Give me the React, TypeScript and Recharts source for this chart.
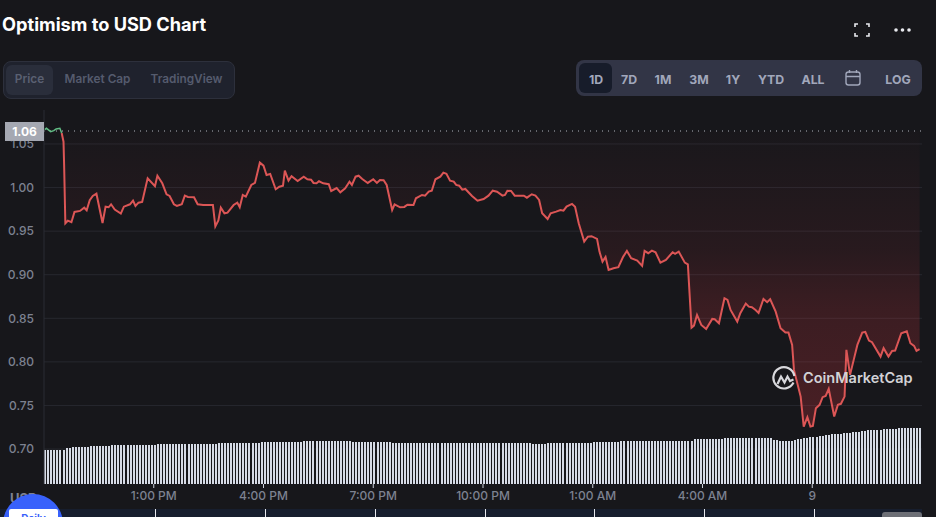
import React from 'react';
import {
  Area,
  Bar,
  CartesianGrid,
  ComposedChart,
  Line,
  ReferenceLine,
  XAxis,
  YAxis,
} from 'recharts';

// minutes since 10:00 AM, one entry per price below
const priceTimes = [
  1, 4, 11, 16, 20, 26, 29, 32, 33, 35, 39, 45, 50, 59, 66, 70, 75, 80, 86, 96, 101, 106, 110, 116, 126, 131, 141, 146, 150, 155, 161,
  170, 182, 186, 194, 201, 206, 213, 218, 226, 231, 236, 246, 252, 261, 277, 281, 286, 290, 296, 301, 311, 317, 321, 326, 331, 340, 346,
  354, 360, 365, 371, 380, 386, 392, 395, 401, 406, 416, 426, 432, 438, 442, 447, 451, 458, 467, 471, 480, 486, 494, 501, 505, 511, 516,
  522, 531, 540, 546, 551, 557, 562, 571, 575, 584, 591, 596, 606, 610, 620, 625, 631, 636, 642, 650, 655, 660, 666, 672, 676, 681, 686,
  691, 702, 711, 721, 729, 736, 743, 752, 756, 760, 766, 772, 787, 792, 800, 806, 812, 817, 826, 831, 840, 847, 852, 857, 866, 871, 877,
  886, 892, 898, 907, 911, 916, 921, 926, 934, 942, 950, 956, 963, 973, 981, 985, 991, 997, 1003, 1011, 1020, 1031, 1035, 1041, 1051, 1056,
  1062, 1066, 1071, 1078, 1086, 1096, 1100, 1107, 1116, 1121, 1126, 1137, 1142, 1151, 1156, 1161, 1167, 1172, 1180, 1186, 1191, 1200, 1208,
  1216, 1221, 1227, 1230, 1241, 1246, 1252, 1257, 1261, 1266, 1272, 1277, 1282, 1287, 1296, 1302, 1307, 1313, 1316, 1322, 1328, 1334, 1342,
  1347, 1353, 1358, 1372, 1377, 1385, 1391, 1396, 1406, 1415, 1421, 1427, 1431, 1436,
];

const prices = [
  1.0664, 1.068, 1.0641, 1.0653, 1.0672, 1.068, 1.0626, 1.0526, 1.0259, 0.9591, 0.962, 0.9602, 0.972, 0.9732, 0.9769, 0.974, 0.9854, 0.9904, 0.993, 0.9594, 0.9781, 0.9774, 0.9808, 0.9747, 0.9701, 0.9781, 0.9808, 0.985, 0.9789, 0.9827, 0.9835,
  1.0107, 1.0015, 1.0136, 1.0049, 0.9923, 0.9904, 0.9808, 0.9789, 0.9808, 0.9907, 0.9892, 0.9889, 0.9808, 0.98, 0.98, 0.9554, 0.9623, 0.977, 0.9705, 0.9712, 0.98, 0.9827, 0.9774, 0.9915, 0.9896, 1.003, 1.0053,
  1.0286, 1.0251, 1.0144, 1.0156, 0.9981, 1.001, 1.0022, 1.0194, 1.0079, 1.013, 1.0076, 1.0125, 1.0095, 1.0091, 1.0053, 1.0049, 1.0072, 1.0049, 1.0038, 0.9961, 0.9995, 0.9946, 0.9992, 1.0068, 1.003, 1.0125, 1.0136,
  1.0099, 1.0053, 1.0095, 1.0053, 1.0087, 1.0084, 1.003, 0.9743, 0.9808, 0.9774, 0.9778, 0.9804, 0.98, 0.9877, 0.9915, 0.9907, 0.9953, 0.9964, 1.0095, 1.0125, 1.0171, 1.0159, 1.0079, 1.0068, 1.003, 1.0022, 0.9976,
  0.9984, 0.9904, 0.985, 0.9869, 0.9907, 0.9964, 0.9953, 0.9907, 0.9915, 0.9964, 0.9961, 0.9907, 0.9907, 0.9884, 0.9923, 0.9907, 0.9858, 0.9705, 0.964, 0.9705, 0.9724, 0.9743, 0.9735, 0.9781, 0.9812, 0.9781, 0.9591,
  0.938, 0.9437, 0.9442, 0.9411, 0.9265, 0.915, 0.9204, 0.9055, 0.9075, 0.9086, 0.9208, 0.9273, 0.9189, 0.9162, 0.9101, 0.9273, 0.9247, 0.9276, 0.9258, 0.9139, 0.917, 0.9258, 0.9239, 0.9265, 0.9139, 0.912,
  0.8393, 0.8416, 0.8539, 0.8424, 0.8378, 0.8493, 0.849, 0.8444, 0.8731, 0.8711, 0.8596, 0.8462, 0.8559, 0.8669, 0.8634, 0.8627, 0.8596, 0.8562, 0.8722, 0.8685, 0.8719, 0.8577, 0.8387,
  0.8336, 0.8336, 0.8195, 0.7908, 0.7602, 0.7258, 0.7366, 0.7258, 0.7266, 0.7469, 0.7507, 0.7595, 0.761, 0.769, 0.7373, 0.7507, 0.7519, 0.7602, 0.8138, 0.7851, 0.8023, 0.8195, 0.8336,
  0.8344, 0.8244, 0.8226, 0.8061, 0.8157, 0.8061, 0.8126, 0.813, 0.8329, 0.8352, 0.8214, 0.8184, 0.8126, 0.8146,
];

// one bar every 5 minutes, relative volume
const volumes = [
  34, 34, 34, 34, 34, 34, 34, 36, 36, 37, 37, 37, 37, 37, 37, 38, 38, 38, 38, 38, 38, 38, 39, 39, 39, 39, 39, 39, 39, 39,
  39, 39, 39, 39, 39, 39, 39, 40, 40, 40, 40, 40, 40, 40, 40, 40, 40, 40, 40, 40, 40, 40, 40, 40, 40, 40, 40, 41, 41, 41,
  41, 41, 41, 41, 41, 41, 41, 41, 41, 41, 41, 42, 42, 42, 42, 42, 42, 42, 42, 42, 42, 42, 42, 42, 42, 43, 43, 43, 43, 43,
  43, 43, 43, 43, 43, 43, 43, 43, 43, 43, 43, 42, 42, 42, 42, 42, 42, 42, 42, 42, 42, 42, 42, 42, 41, 41, 41, 41, 41, 41,
  41, 41, 41, 41, 41, 41, 41, 41, 41, 41, 41, 41, 41, 41, 41, 41, 41, 41, 41, 41, 41, 41, 41, 41, 41, 41, 41, 41, 41, 41,
  41, 41, 41, 41, 41, 41, 41, 41, 41, 41, 40, 40, 40, 40, 40, 41, 41, 41, 41, 41, 41, 41, 41, 41, 41, 41, 41, 41, 41, 41,
  42, 42, 42, 42, 42, 42, 42, 42, 42, 43, 43, 43, 43, 43, 43, 43, 43, 43, 43, 43, 43, 43, 43, 43, 43, 43, 43, 43, 43, 43,
  43, 43, 43, 45, 45, 45, 45, 45, 45, 45, 45, 45, 45, 46, 46, 46, 46, 46, 46, 46, 46, 46, 46, 46, 46, 46, 46, 46, 46, 44,
  44, 43, 43, 43, 43, 43, 44, 45, 45, 46, 46, 47, 47, 47, 48, 48, 49, 49, 50, 50, 50, 50, 51, 51, 51, 52, 52, 52, 53, 53,
  54, 54, 54, 54, 54, 55, 55, 55, 55, 55, 56, 56, 56, 56, 56, 56, 56, 56,
];

const timeTicks = [180, 360, 540, 720, 900, 1080, 1260];
const timeLabels = ['1:00 PM', '4:00 PM', '7:00 PM', '10:00 PM', '1:00 AM', '4:00 AM', '9'];
const priceTicks = [0.7, 0.75, 0.8, 0.85, 0.9, 0.95, 1.0, 1.05];
const openPrice = 1.0649;
const greenUntil = 29;

const chartTabs = [
  { label: 'Market Cap', x: 97.5 },
  { label: 'TradingView', x: 186.5 },
];
const rangeTabs = [
  { label: '1D', x: 596 },
  { label: '7D', x: 629 },
  { label: '1M', x: 663 },
  { label: '3M', x: 699 },
  { label: '1Y', x: 733 },
  { label: 'YTD', x: 771 },
  { label: 'ALL', x: 813 },
  { label: 'LOG', x: 898 },
];
const stripTicks = [155, 265, 375, 485, 594, 704, 814];

const FONT = 'Inter, sans-serif';

const priceRows = priceTimes.map((time, i) => ({
  time,
  upPrice: time <= greenUntil ? prices[i] : undefined,
  downPrice: time >= greenUntil ? prices[i] : undefined,
}));
const volumeRows = volumes.map((volume, i) => ({ time: i * 5 + 2, volume }));
const rows = [...priceRows, ...volumeRows].sort((a, b) => a.time - b.time);

// rows share one axis, so the band is too narrow for the library's own bar width
function VolumeBar({ x, y, width, height, volume }: any) {
  if (volume == null) return null;
  return (
    <rect
      x={Math.round(x + width / 2 - 1)}
      y={y}
      width={2}
      height={height}
      fill="#d6dbe6"
    />
  );
}

function Label({ x, y, color, size = 12, weight = 600, children }: any) {
  return (
    <div
      style={{
        position: 'absolute',
        left: x,
        top: y,
        transform: 'translate(-50%, -50%)',
        color,
        fontSize: size,
        fontWeight: weight,
        whiteSpace: 'nowrap',
      }}
    >
      {children}
    </div>
  );
}

export default function App() {
  return (
    <div
      style={{
        position: 'absolute',
        left: 0,
        top: 0,
        width: 936,
        height: 517,
        overflow: 'hidden',
        background: '#17171b',
        fontFamily: FONT,
      }}
    >
      <ComposedChart
        width={936}
        height={517}
        data={rows}
        margin={{ top: 110, right: 14, bottom: 0, left: 0 }}
      >
        <defs>
          <linearGradient id="downFill" x1="0" y1="0" x2="0" y2="1">
            <stop offset="0%" stopColor="#ea3943" stopOpacity={0.01} />
            <stop offset="40%" stopColor="#ea3943" stopOpacity={0.08} />
            <stop offset="60%" stopColor="#ea3943" stopOpacity={0.17} />
            <stop offset="100%" stopColor="#ea3943" stopOpacity={0.24} />
          </linearGradient>
        </defs>
        <CartesianGrid
          stroke="#27282f"
          vertical={false}
          yAxisId="price"
          horizontalValues={priceTicks}
        />
        <XAxis
          dataKey="time"
          type="number"
          domain={[0, 1440]}
          ticks={timeTicks}
          tickFormatter={(t: number) => timeLabels[timeTicks.indexOf(t)]}
          height={33}
          tickSize={4}
          tickMargin={3}
          axisLine={false}
          tickLine={{ stroke: '#c8ccd6' }}
          tick={{ fill: '#7d8291', fontSize: 12, fontWeight: 500, fontFamily: FONT }}
        />
        <YAxis
          yAxisId="price"
          width={44}
          domain={[0.6599, 1.089]}
          ticks={priceTicks}
          tickFormatter={(v: number) => v.toFixed(2)}
          tickSize={0}
          tickMargin={10}
          axisLine={{ stroke: '#2b2c34' }}
          tickLine={false}
          tick={{ fill: '#7d8291', fontSize: 12, fontWeight: 500, fontFamily: FONT }}
        />
        <YAxis yAxisId="volume" orientation="right" hide domain={[0, 374]} />
        <Bar
          yAxisId="volume"
          dataKey="volume"
          shape={VolumeBar}
          isAnimationActive={false}
        />
        <ReferenceLine
          yAxisId="price"
          y={openPrice}
          stroke="#b4b7c0"
          strokeDasharray="1 5"
        />
        <Area
          yAxisId="price"
          type="linear"
          dataKey="downPrice"
          baseValue={openPrice}
          stroke="#dc5656"
          strokeWidth={2}
          fill="url(#downFill)"
          fillOpacity={1}
          connectNulls
          dot={false}
          activeDot={false}
          isAnimationActive={false}
        />
        <Line
          yAxisId="price"
          type="linear"
          dataKey="upPrice"
          stroke="#62bd85"
          strokeWidth={1.5}
          connectNulls
          dot={false}
          activeDot={false}
          isAnimationActive={false}
        />
      </ComposedChart>

      {/* last price tag on the axis */}
      <div
        style={{
          position: 'absolute',
          left: 5,
          top: 122,
          width: 39,
          height: 19,
          lineHeight: '19px',
          background: '#a5a8b2',
          color: '#fff',
          fontSize: 12,
          fontWeight: 700,
          textAlign: 'center',
        }}
      >
        1.06
      </div>

      <div
        style={{
          position: 'absolute',
          left: 2,
          top: 13,
          color: '#fff',
          fontSize: 18.2,
          fontWeight: 700,
          lineHeight: '22px',
          whiteSpace: 'nowrap',
        }}
      >
        Optimism to USD Chart
      </div>

      {/* fullscreen and menu */}
      <svg
        width={936}
        height={60}
        style={{ position: 'absolute', left: 0, top: 0 }}
        fill="none"
        stroke="#e8e9ee"
        strokeWidth={1.6}
      >
        <path d="M855 27v-3h3M866 24h3v3M869 33v3h-3M858 36h-3v-3" />
        <g fill="#e8e9ee" stroke="none">
          <circle cx={896} cy={30} r={1.8} />
          <circle cx={902.5} cy={30} r={1.8} />
          <circle cx={909} cy={30} r={1.8} />
        </g>
      </svg>

      {/* chart type tabs */}
      <div
        style={{
          position: 'absolute',
          left: 3,
          top: 61,
          width: 230,
          height: 36,
          background: '#1f222d',
          border: '1px solid #2d303c',
          borderRadius: 8,
        }}
      />
      <div
        style={{
          position: 'absolute',
          left: 6,
          top: 65,
          width: 47,
          height: 30,
          background: '#2a2e3b',
          borderRadius: 6,
        }}
      />
      <Label x={29.5} y={79} color="#5a6072" size={11.8}>Price</Label>
      {chartTabs.map((tab) => (
        <Label key={tab.label} x={tab.x} y={79} color="#555b6d" size={11.8}>{tab.label}</Label>
      ))}

      {/* range tabs */}
      <div
        style={{
          position: 'absolute',
          left: 576,
          top: 60,
          width: 346,
          height: 36,
          background: '#323546',
          borderRadius: 8,
        }}
      />
      <div
        style={{
          position: 'absolute',
          left: 579,
          top: 63,
          width: 33,
          height: 30,
          background: '#171c2a',
          borderRadius: 6,
        }}
      />
      {rangeTabs.map((tab) => (
        <Label key={tab.label} x={tab.x} y={78.5} color="#a1a7bb" weight={700} size={12.3}>{tab.label}</Label>
      ))}
      <svg
        width={18}
        height={18}
        style={{ position: 'absolute', left: 844, top: 69 }}
        fill="none"
        stroke="#a1a7bb"
        strokeWidth={1.4}
      >
        <rect x={2} y={3} width={14} height={13} rx={2.5} />
        <path d="M2 7.5h14M5.5 1v3M12.5 1v3" />
      </svg>

      {/* watermark */}
      <svg
        width={26}
        height={26}
        style={{ position: 'absolute', left: 771, top: 366 }}
        fill="none"
        stroke="#d8d8dc"
        strokeWidth={2.2}
      >
        <path d="M22.5 16.5A10.6 10.6 0 1 1 23.4 10" />
        <path d="M6.5 18l3.5-7.5 3.5 6 3-6 2.5 4.5 3.5-1.5" />
      </svg>
      <div
        style={{
          position: 'absolute',
          left: 803,
          top: 368,
          color: '#d2d2d6',
          fontSize: 14.5,
          fontWeight: 600,
          lineHeight: '20px',
          whiteSpace: 'nowrap',
        }}
      >
        CoinMarketCap
      </div>

      {/* overview strip along the bottom edge */}
      <div
        style={{
          position: 'absolute',
          left: 0,
          top: 509,
          width: 922,
          height: 8,
          background: '#171e2e',
        }}
      />
      {stripTicks.map((x) => (
        <div
          key={x}
          style={{
            position: 'absolute',
            left: x,
            top: 509,
            width: 1,
            height: 8,
            background: '#e6e8ee',
          }}
        />
      ))}
      <div
        style={{
          position: 'absolute',
          left: 882,
          top: 512,
          width: 40,
          height: 5,
          background: '#6d6f76',
          borderRadius: '3px 3px 0 0',
        }}
      />

      <div
        style={{
          position: 'absolute',
          left: 10,
          top: 490,
          color: '#7d8291',
          fontSize: 13,
          fontWeight: 700,
          lineHeight: '16px',
        }}
      >
        USD
      </div>

      {/* floating badge clipped by the page edge */}
      <div
        style={{
          position: 'absolute',
          left: 3,
          top: 494,
          width: 60,
          height: 60,
          borderRadius: '50%',
          background: '#3861fb',
        }}
      />
      <div
        style={{
          position: 'absolute',
          left: 9,
          top: 509,
          width: 49,
          height: 14,
          paddingTop: 3,
          background: '#fff',
          borderRadius: 2,
          color: '#3861fb',
          fontSize: 10,
          fontWeight: 700,
          lineHeight: '12px',
          textAlign: 'center',
        }}
      >
        Daily
      </div>
    </div>
  );
}
